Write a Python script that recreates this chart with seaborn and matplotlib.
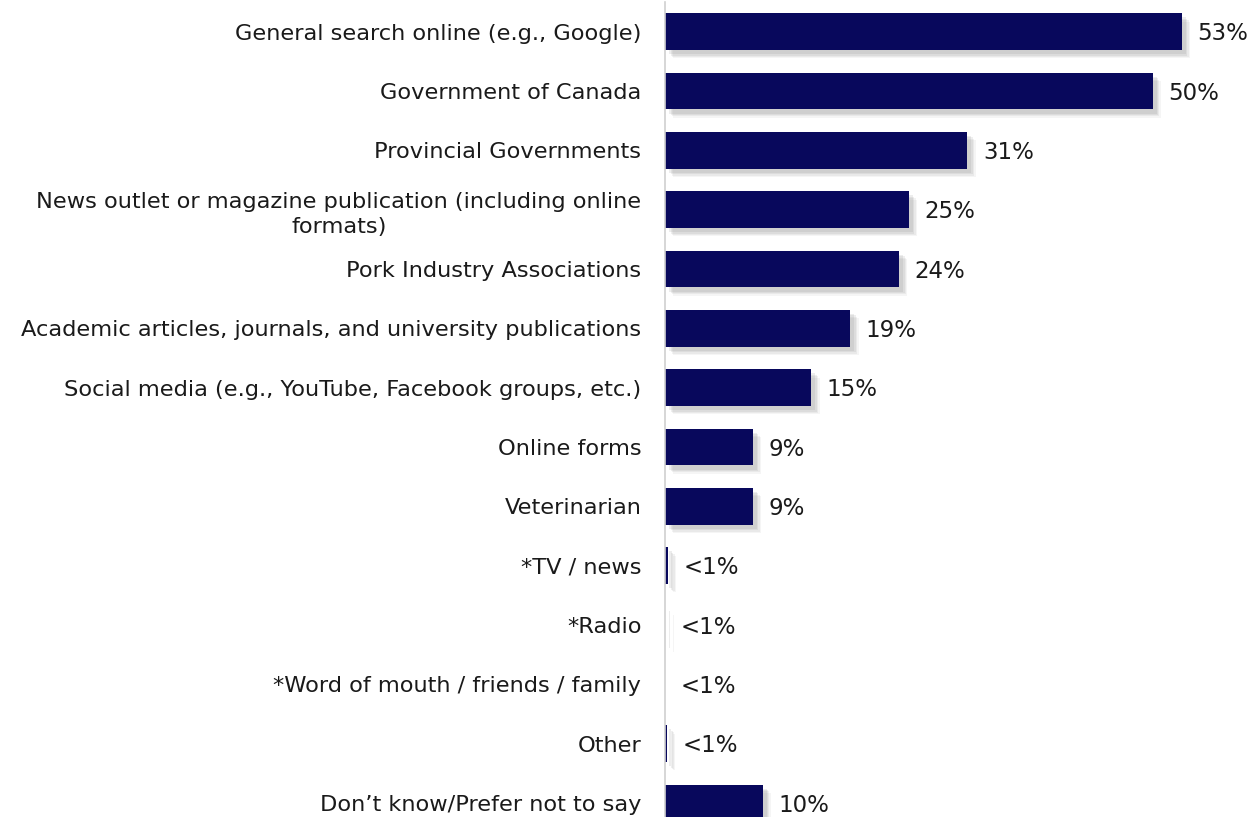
import matplotlib
matplotlib.use("Agg")
import matplotlib.pyplot as plt
import matplotlib.patheffects as pe
import seaborn as sns
import pandas as pd

categories = [
    "General search online (e.g., Google)",
    "Government of Canada",
    "Provincial Governments",
    "News outlet or magazine publication (including online\nformats)",
    "Pork Industry Associations",
    "Academic articles, journals, and university publications",
    "Social media (e.g., YouTube, Facebook groups, etc.)",
    "Online forms",
    "Veterinarian",
    "*TV / news",
    "*Radio",
    "*Word of mouth / friends / family",
    "Other",
    "Don\u2019t know/Prefer not to say",
]
values = [53, 50, 31, 25, 24, 19, 15, 9, 9, 0.3, 0.04, 0.0, 0.22, 10]
value_labels = ["53%", "50%", "31%", "25%", "24%", "19%", "15%", "9%", "9%",
                "<1%", "<1%", "<1%", "<1%", "10%"]

df = pd.DataFrame({"source": categories, "share": values})

sns.set_style("white")
plt.rcParams["font.family"] = ["DejaVu Sans"]

fig = plt.figure(figsize=(12.52, 8.17), dpi=100)
ax = fig.add_axes([665 / 1252, -0.0191, 585 / 1252, 1.0167])

navy = "#08085c"
sns.barplot(data=df, y="source", x="share", orient="h", color=navy,
            saturation=1, width=0.62, linewidth=0, ax=ax)

# soft drop shadow built from a few stacked translucent offsets
shadow = []
for off, a in [((6, -6), 0.08), ((5, -5), 0.10), ((4, -4), 0.12), ((3, -3), 0.14)]:
    shadow.append(pe.SimplePatchShadow(offset=off, shadow_rgbFace="#808080", alpha=a))
shadow.append(pe.Normal())
for patch in ax.patches:
    patch.set_path_effects(shadow)

ax.set_xlim(0, 60)
ax.set_ylim(13.5, -0.5)
ax.set_xlabel("")
ax.set_ylabel("")
ax.set_xticks([])
ax.tick_params(axis="y", length=0, pad=17, labelsize=16.2, labelcolor="#1a1a1a")
for lbl in ax.get_yticklabels():
    lbl.set_horizontalalignment("right")
    lbl.set_multialignment("center")
    lbl.set_linespacing(1.35)

for spine in ["top", "right", "bottom"]:
    ax.spines[spine].set_visible(False)
ax.spines["left"].set_color("#d0d0d0")
ax.spines["left"].set_linewidth(1.2)

for i, (v, txt) in enumerate(zip(values, value_labels)):
    ax.text(v + 1.6, i + 0.04, txt, va="center", ha="left", fontsize=16.5, color="#1a1a1a")

fig.savefig("out.png", dpi=100)
